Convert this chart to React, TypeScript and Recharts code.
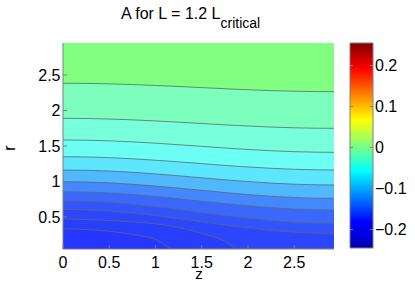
import { ComposedChart, Area, Line, XAxis, YAxis, CartesianGrid, ReferenceArea } from "recharts";

// sample positions along z (shared by all contour lines)
const Z = [0, 0.25, 0.5, 0.75, 1, 1.2, 1.5, 1.75, 1.9, 2.25, 2.5, 2.75, 2.93];

// contour lines, top to bottom: r at each z
const L1 = [2.383, 2.381, 2.375, 2.365, 2.352, 2.341, 2.322, 2.306, 2.297, 2.28, 2.271, 2.266, 2.265];
const L2 = [1.89, 1.887, 1.88, 1.868, 1.853, 1.839, 1.817, 1.798, 1.788, 1.767, 1.756, 1.75, 1.749];
const L3 = [1.585, 1.582, 1.573, 1.558, 1.54, 1.522, 1.495, 1.472, 1.459, 1.433, 1.42, 1.413, 1.411];
const L4 = [1.349, 1.346, 1.336, 1.32, 1.3, 1.282, 1.252, 1.227, 1.213, 1.186, 1.172, 1.164, 1.162];
const L5 = [1.162, 1.158, 1.147, 1.13, 1.107, 1.086, 1.052, 1.025, 1.009, 0.978, 0.962, 0.953, 0.951];
const L6 = [0.997, 0.993, 0.981, 0.961, 0.936, 0.913, 0.876, 0.845, 0.827, 0.793, 0.775, 0.765, 0.763];
const L7 = [0.856, 0.851, 0.838, 0.817, 0.789, 0.763, 0.723, 0.689, 0.67, 0.632, 0.612, 0.601, 0.599];
const L8 = [0.73, 0.724, 0.708, 0.681, 0.647, 0.615, 0.564, 0.523, 0.499, 0.452, 0.428, 0.414, 0.411];
const L9 = [0.608, 0.602, 0.584, 0.556, 0.52, 0.486, 0.433, 0.388, 0.363, 0.313, 0.288, 0.273, 0.27];
const L10 = [0.472, 0.466, 0.452, 0.432, 0.405, 0.366, 0.27, 0.16, 0.05, 0.05, 0.05, 0.05, 0.05];
const L11 = [0.335, 0.325, 0.3, 0.255, 0.185, 0.05, 0.05, 0.05, 0.05, 0.05, 0.05, 0.05, 0.05];
const CONTOURS = [L1, L2, L3, L4, L5, L6, L7, L8, L9, L10, L11];

const Z_RANGE = [0, 2.93];
const R_RANGE = [0.05, 2.95];
const Z_TICKS = [0, 0.5, 1, 1.5, 2, 2.5];
const R_TICKS = [0.5, 1, 1.5, 2, 2.5];

const CB_RANGE = [-0.245, 0.255];
const CB_TICKS = [-0.2, -0.1, 0, 0.1, 0.2];

// fill colour of each band, from the top band down
const BAND_COLORS = [
  "#80ff80",
  "#7cffbc",
  "#78ffdc",
  "#6cfff4",
  "#5ce6ff",
  "#50b8ff",
  "#4488ff",
  "#3a68ff",
  "#3254ff",
  "#2c46ff",
  "#283eff",
  "#2436ff",
];

const JET = [
  { offset: "0%", color: "#0000a8" },
  { offset: "6%", color: "#0000e0" },
  { offset: "12.5%", color: "#0000ff" },
  { offset: "37.5%", color: "#00ffff" },
  { offset: "62.5%", color: "#ffff00" },
  { offset: "87.5%", color: "#ff0000" },
  { offset: "100%", color: "#800000" },
];

const FONT = '"Liberation Sans", Arial, Helvetica, sans-serif';
const FRAME = "#7f7f7f";
const LINE = "#5e6a6a";

const rows = Z.map((z, i) => {
  const row: Record<string, number> = { z };
  CONTOURS.forEach((c, k) => {
    row[`c${k}`] = c[i];
  });
  return row;
});

const fmt = (v: number) => (v < 0 ? `\u2212${Math.abs(v)}` : `${v}`);

const BottomTick = ({ x, y, payload }: any) => (
  <g>
    <line x1={x} x2={x} y1={y} y2={y - 4} stroke={FRAME} />
    <text x={x} y={y + 19} textAnchor="middle" fontSize={16} fontFamily={FONT} fill="#000">
      {payload.value}
    </text>
  </g>
);

const TopTick = ({ x, y }: any) => <line x1={x} x2={x} y1={y} y2={y + 4} stroke={FRAME} />;

const LeftTick = ({ x, y, payload }: any) => (
  <g>
    <line x1={x} x2={x + 4} y1={y} y2={y} stroke={FRAME} />
    <text x={x - 2.5} y={y + 5.7} textAnchor="end" fontSize={16} fontFamily={FONT} fill="#000">
      {payload.value}
    </text>
  </g>
);

const RightTick = ({ x, y }: any) => <line x1={x} x2={x - 4} y1={y} y2={y} stroke={FRAME} />;

const CbTick = ({ x, y, payload }: any) => (
  <g>
    <line x1={x} x2={x - 3} y1={y} y2={y} stroke={FRAME} />
    <line x1={x - 23} x2={x - 20} y1={y} y2={y} stroke={FRAME} />
    <text x={x + 2} y={y + 5.7} textAnchor="start" fontSize={16} fontFamily={FONT} fill="#000">
      {fmt(payload.value)}
    </text>
  </g>
);

function ContourPlot() {
  return (
    <ComposedChart
      width={415}
      height={290}
      data={rows}
      margin={{ top: 43, right: 81, bottom: 11, left: 23 }}
    >
      <CartesianGrid horizontal={false} vertical={false} fill={BAND_COLORS[0]} fillOpacity={1} />
      {CONTOURS.map((_, k) => (
        <Area
          key={`a${k}`}
          type="monotone"
          dataKey={`c${k}`}
          baseValue="dataMin"
          fill={BAND_COLORS[k + 1]}
          fillOpacity={1}
          stroke="none"
          isAnimationActive={false}
        />
      ))}
      {CONTOURS.map((_, k) => (
        <Line
          key={`l${k}`}
          type="monotone"
          dataKey={`c${k}`}
          stroke={LINE}
          strokeOpacity={0.8}
          strokeWidth={1}
          dot={false}
          activeDot={false}
          isAnimationActive={false}
        />
      ))}
      <XAxis
        type="number"
        dataKey="z"
        domain={Z_RANGE}
        ticks={Z_TICKS}
        allowDataOverflow
        height={30}
        tickSize={0}
        tickMargin={0}
        tickLine={false}
        axisLine={{ stroke: FRAME }}
        tick={<BottomTick />}
        interval={0}
      />
      <XAxis
        xAxisId="top"
        orientation="top"
        type="number"
        dataKey="z"
        domain={Z_RANGE}
        ticks={Z_TICKS}
        allowDataOverflow
        height={0}
        tickSize={0}
        tickMargin={0}
        tickLine={false}
        axisLine={{ stroke: FRAME }}
        tick={<TopTick />}
        interval={0}
      />
      <YAxis
        type="number"
        domain={R_RANGE}
        ticks={R_TICKS}
        allowDataOverflow
        width={40}
        tickSize={0}
        tickMargin={0}
        tickLine={false}
        axisLine={{ stroke: FRAME }}
        tick={<LeftTick />}
        interval={0}
      />
      <YAxis
        yAxisId="right"
        orientation="right"
        type="number"
        domain={R_RANGE}
        ticks={R_TICKS}
        allowDataOverflow
        width={0}
        tickSize={0}
        tickMargin={0}
        tickLine={false}
        axisLine={{ stroke: FRAME }}
        tick={<RightTick />}
        interval={0}
      />
    </ComposedChart>
  );
}

function ColorBar() {
  return (
    <ComposedChart
      width={415}
      height={290}
      data={[{ x: 0 }, { x: 1 }]}
      margin={{ top: 43, right: 2, bottom: 42, left: 350 }}
    >
      <defs>
        <linearGradient id="jet" x1="0" y1="1" x2="0" y2="0">
          {JET.map((s) => (
            <stop key={s.offset} offset={s.offset} stopColor={s.color} />
          ))}
        </linearGradient>
      </defs>
      <XAxis type="number" dataKey="x" domain={[0, 1]} hide />
      <ReferenceArea
        x1={0}
        x2={1}
        y1={CB_RANGE[0]}
        y2={CB_RANGE[1]}
        fill="url(#jet)"
        fillOpacity={1}
        stroke={FRAME}
        strokeWidth={1}
      />
      <YAxis
        orientation="right"
        type="number"
        domain={CB_RANGE}
        ticks={CB_TICKS}
        allowDataOverflow
        width={40}
        tickSize={0}
        tickMargin={0}
        tickLine={false}
        axisLine={false}
        tick={<CbTick />}
        interval={0}
      />
    </ComposedChart>
  );
}

export default function App() {
  return (
    <div
      style={{
        position: "absolute",
        left: 0,
        top: 0,
        width: 415,
        height: 290,
        background: "#fff",
        fontFamily: FONT,
      }}
    >
      <div style={{ position: "absolute", left: 0, top: 0 }}>
        <ContourPlot />
      </div>
      <div style={{ position: "absolute", left: 0, top: 0 }}>
        <ColorBar />
      </div>
      <svg
        width={415}
        height={290}
        style={{ position: "absolute", left: 0, top: 0, pointerEvents: "none" }}
      >
        <text x={121} y={19.3} fontSize={16} fontFamily={FONT} fill="#000">
          A for L = 1.2 L
          <tspan dy={8.7} fontSize={14}>
            critical
          </tspan>
        </text>
        <text x={199} y={279} textAnchor="middle" fontSize={15} fontFamily={FONT} fill="#000">
          z
        </text>
        <text
          x={15}
          y={148}
          textAnchor="middle"
          fontSize={16}
          fontFamily={FONT}
          fill="#000"
          transform="rotate(-90 15 148)"
        >
          r
        </text>
      </svg>
    </div>
  );
}
